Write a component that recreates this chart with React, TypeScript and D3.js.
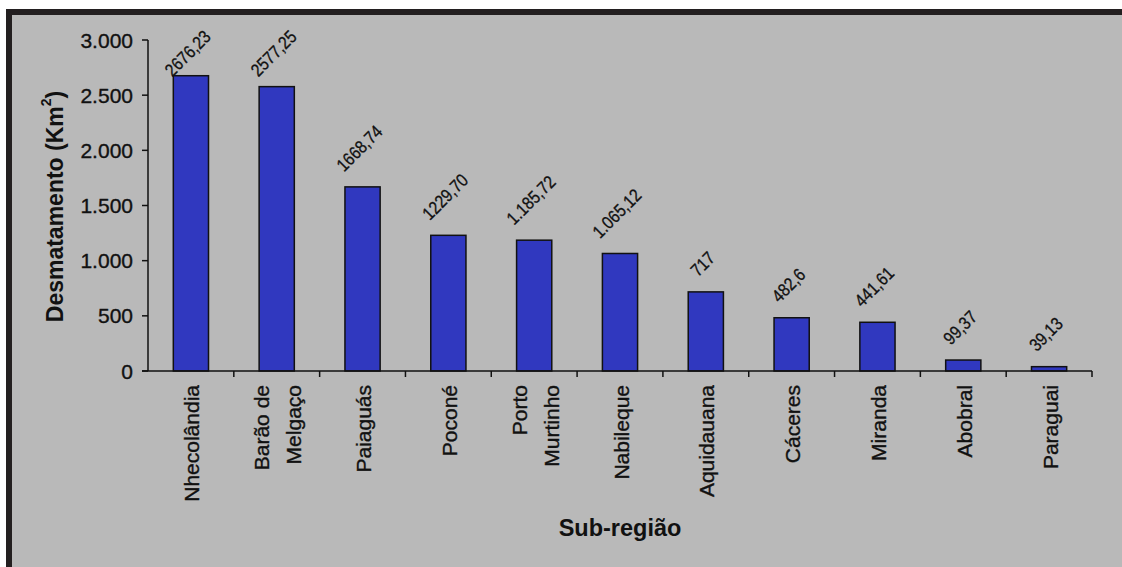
import React from "react";
import * as d3 from "d3";

const categories = [
  "Nhecolândia",
  "Barão de\nMelgaço",
  "Paiaguás",
  "Poconé",
  "Porto\nMurtinho",
  "Nabileque",
  "Aquidauana",
  "Cáceres",
  "Miranda",
  "Abobral",
  "Paraguai",
];
const values = [2676.23, 2577.25, 1668.74, 1229.7, 1185.72, 1065.12, 717, 482.6, 441.61, 99.37, 39.13];
const valueLabels = ["2676,23", "2577,25", "1668,74", "1229,70", "1.185,72", "1.065,12", "717", "482,6", "441,61", "99,37", "39,13"];
const yTicks = [0, 500, 1000, 1500, 2000, 2500, 3000];

const W = 1122;
const H = 567;
const font = "'Liberation Sans', Arial, sans-serif";

const ptBR = d3.formatLocale({ decimal: ",", thousands: ".", grouping: [3], currency: ["R$", ""] });
const fmt = ptBR.format(",");

// rough Arial width of a numeric label, in em
const labelEm = (s: string) => s.split("").reduce((a, ch) => a + (/[0-9]/.test(ch) ? 0.556 : 0.278), 0);

export default function App() {
  const left = 148;
  const right = 1092;
  const top = 40;
  const bottom = 371;

  const x = d3.scaleBand<string>().domain(categories).range([left, right]).padding(0);
  const y = d3.scaleLinear().domain([0, 3000]).range([bottom, top]);
  const barW = x.bandwidth() * 0.41;
  const valueFs = 18;
  const valueWidthFs = 15.5; // labels look narrow in the original
  const ink = "#111";

  return (
    <svg width={W} height={H} style={{ position: "absolute", left: 0, top: 0 }} fontFamily={font}>
      <rect x={0} y={0} width={W} height={H} fill="#ffffff" />
      <rect x={6} y={9} width={W - 6} height={H - 9} fill="#b9b9b9" />
      <rect x={6} y={9} width={W - 6} height={6} fill="#231f20" />
      <rect x={6} y={9} width={6} height={H - 9} fill="#231f20" />

      {/* bars */}
      {categories.map((c, i) => {
        const cx = x(c)! + x.bandwidth() / 2;
        return (
          <rect
            key={c}
            x={cx - barW / 2}
            y={y(values[i])}
            width={barW}
            height={bottom - y(values[i])}
            fill="#3038bf"
            stroke={ink}
            strokeWidth={1.5}
          />
        );
      })}

      {/* value labels, rotated 45°, kept inside the plot top */}
      {categories.map((c, i) => {
        const cx = x(c)! + x.bandwidth() / 2;
        const L = labelEm(valueLabels[i]) * valueWidthFs;
        const half = (L + valueFs * 0.72) / (2 * Math.SQRT2);
        let cy = y(values[i]) - 14 - half;
        if (cy - half < 29) cy = 29 + half;
        return (
          <text
            key={"v" + c}
            transform={`translate(${cx - 3},${cy}) rotate(-45)`}
            textAnchor="middle"
            dominantBaseline="central"
            fontSize={valueFs}
            textLength={L}
            lengthAdjust="spacingAndGlyphs"
            fill={ink}
            stroke={ink}
            strokeWidth={0.3}
          >
            {valueLabels[i]}
          </text>
        );
      })}

      {/* y axis */}
      <line x1={left} x2={left} y1={top} y2={bottom} stroke={ink} strokeWidth={1.5} />
      {yTicks.map((t) => (
        <g key={t}>
          <line x1={left - 6} x2={left} y1={y(t)} y2={y(t)} stroke={ink} strokeWidth={1.5} />
          <text
            x={133}
            y={y(t)}
            textAnchor="end"
            dominantBaseline="central"
            fontSize={21}
            fill={ink}
            stroke={ink}
            strokeWidth={0.35}
          >
            {fmt(t)}
          </text>
        </g>
      ))}

      {/* x axis */}
      <line x1={left - 6} x2={right} y1={bottom} y2={bottom} stroke={ink} strokeWidth={1.5} />
      {categories.map((c) => (
        <line
          key={"t" + c}
          x1={x(c)! + x.bandwidth()}
          x2={x(c)! + x.bandwidth()}
          y1={bottom}
          y2={bottom + 6}
          stroke={ink}
          strokeWidth={1.5}
        />
      ))}
      {categories.map((c) => {
        const cx = x(c)! + x.bandwidth() / 2;
        const lines = c.split("\n");
        const gap = 32;
        return lines.map((ln, j) => {
          const off = (j - (lines.length - 1) / 2) * gap;
          return (
            <text
              key={c + j}
              transform={`translate(${cx + off + 1},385) rotate(-90)`}
              textAnchor="end"
              dominantBaseline="central"
              fontSize={21}
              fill={ink}
              stroke={ink}
              strokeWidth={0.35}
            >
              {ln}
            </text>
          );
        });
      })}

      {/* axis titles */}
      <text
        transform={`translate(55,${(top + bottom) / 2 + 1}) rotate(-90)`}
        textAnchor="middle"
        dominantBaseline="central"
        fontSize={23}
        fontWeight="bold"
        fill={ink}
      >
        Desmatamento (Km
        <tspan fontSize={14} dy={-9}>
          2
        </tspan>
        <tspan dy={9}>)</tspan>
      </text>
      <text x={(left + right) / 2} y={536} textAnchor="middle" fontSize={23.5} fontWeight="bold" fill={ink}>
        Sub-região
      </text>
    </svg>
  );
}
